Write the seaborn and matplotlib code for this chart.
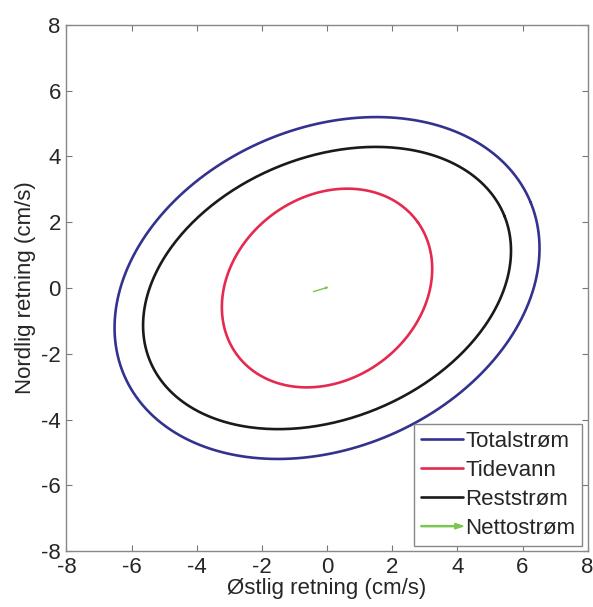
import numpy as np
import pandas as pd
import matplotlib
matplotlib.use("Agg")
import matplotlib.pyplot as plt
import matplotlib.patches as mpatches
from matplotlib.legend_handler import HandlerPatch
import seaborn as sns

# Ellipse parameters (cm/s, degrees)
series = ["Totalstrøm", "Tidevann", "Reststrøm"]
semi_major = [6.77, 3.43, 5.87]
semi_minor = [4.87, 2.79, 3.98]
inclination = [22.7, 35.5, 21.8]
colors = ["#33338f", "#e52a4f", "#1a1a1a"]

# net current arrow (start -> end)
net_start = [-0.42, -0.11]
net_end = [0.05, 0.03]

ticks = [-8, -6, -4, -2, 0, 2, 4, 6, 8]

# build ellipse curves
phase = np.linspace(0, 2 * np.pi, 400)
frames = []
for name, a, b, inc in zip(series, semi_major, semi_minor, inclination):
    t = np.deg2rad(inc)
    x = a * np.cos(phase) * np.cos(t) - b * np.sin(phase) * np.sin(t)
    y = a * np.cos(phase) * np.sin(t) + b * np.sin(phase) * np.cos(t)
    frames.append(pd.DataFrame({"x": x, "y": y, "serie": name}))
df = pd.concat(frames, ignore_index=True)

sns.set_style("white")
plt.rcParams["font.family"] = ["Liberation Sans", "DejaVu Sans"]
fs = 16

fig = plt.figure(figsize=(5.93, 6.07), dpi=100)
ax = fig.add_axes([0.112, 0.092, 0.879, 0.867])

sns.lineplot(data=df, x="x", y="y", hue="serie", palette=dict(zip(series, colors)),
             sort=False, estimator=None, units="serie", lw=1.9, ax=ax, legend=False)

ax.annotate("", xy=net_end, xytext=net_start,
            arrowprops=dict(arrowstyle="-|>", color="#7cc552", lw=1.0, mutation_scale=3,
                            shrinkA=0, shrinkB=0))

ax.set_xlim(-8, 8)
ax.set_ylim(-8, 8)
ax.set_xticks(ticks)
ax.set_yticks(ticks)
ax.set_xticklabels([str(t) for t in ticks])
ax.set_yticklabels([str(t) for t in ticks])
ax.tick_params(direction="in", length=4, width=0.8, color="#777777", labelsize=fs,
               top=True, right=True, bottom=True, left=True, pad=4)
for s in ax.spines.values():
    s.set_color("#888888")
    s.set_linewidth(1.0)

ax.set_xlabel("Østlig retning (cm/s)", fontsize=fs, labelpad=0)
ax.set_ylabel("Nordlig retning (cm/s)", fontsize=fs, labelpad=4)


def make_arrow(legend, orig_handle, xdescent, ydescent, width, height, fontsize):
    return mpatches.FancyArrow(0, height / 2, width, 0, width=0.8, head_width=4,
                               head_length=6, length_includes_head=True, color="#7cc552")


handles = [plt.Line2D([], [], color=c, lw=1.9) for c in colors]
handles.append(mpatches.FancyArrow(0, 0, 1, 0, color="#7cc552"))
labels = series + ["Nettostrøm"]
leg = ax.legend(handles, labels, loc="lower right", fontsize=fs, handlelength=1.9,
                handletextpad=0.1, labelspacing=0.36, borderpad=0.3, borderaxespad=0.25,
                fancybox=False, framealpha=1, edgecolor="#888888",
                handler_map={mpatches.FancyArrow: HandlerPatch(patch_func=make_arrow)})
leg.get_frame().set_linewidth(1.0)

fig.savefig("out.png", dpi=100, facecolor="white")
